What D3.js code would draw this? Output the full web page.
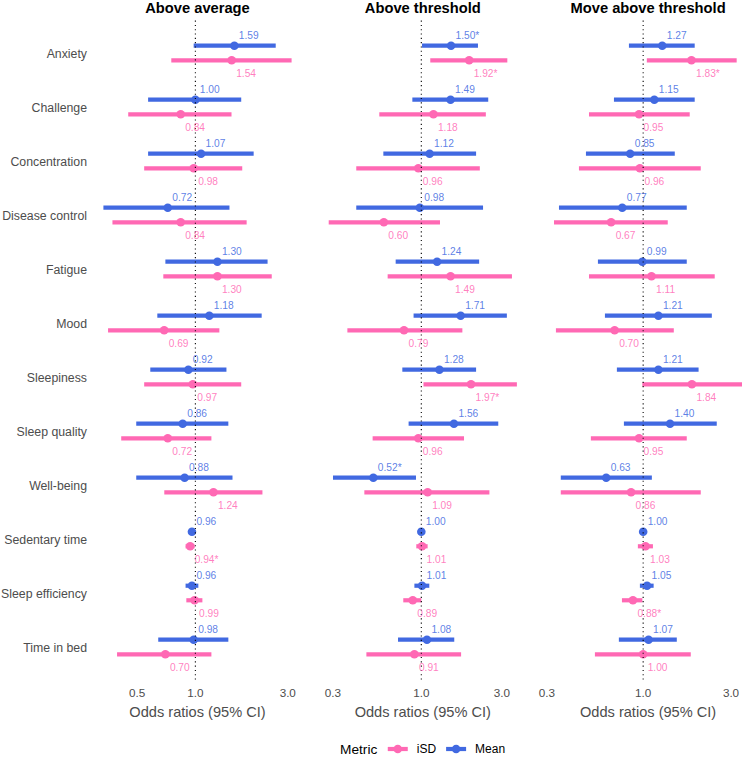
<!DOCTYPE html>
<html>
<head>
<meta charset="utf-8">
<script src="https://cdn.jsdelivr.net/npm/d3@7"></script>
<style>
  body { margin: 0; background: #fff; }
  svg { display: block; font-family: "Liberation Sans", Arial, sans-serif; }
</style>
</head>
<body>
<div id="chart"></div>
<script>
const categories = ['Anxiety', 'Challenge', 'Concentration', 'Disease control', 'Fatigue', 'Mood',
  'Sleepiness', 'Sleep quality', 'Well-being', 'Sedentary time', 'Sleep efficiency', 'Time in bed'];
const panels = ['Above average', 'Above threshold', 'Move above threshold'];
const metrics = ['iSD', 'Mean'];
const panelTicks = [[0.5, 1, 3], [0.3, 1, 3], [0.3, 1, 3]];

// one row per panel, one value per category
const meanEst = [
  [1.59, 1.00, 1.07, 0.72, 1.30, 1.18, 0.92, 0.86, 0.88, 0.96, 0.96, 0.98],
  [1.50, 1.49, 1.12, 0.98, 1.24, 1.71, 1.28, 1.56, 0.52, 1.00, 1.01, 1.08],
  [1.27, 1.15, 0.85, 0.77, 0.99, 1.21, 1.21, 1.40, 0.63, 1.00, 1.05, 1.07],
];
const meanLo = [
  [0.98, 0.57, 0.57, 0.335, 0.70, 0.636, 0.585, 0.495, 0.495, 0.95, 0.89, 0.643],
  [1.01, 0.885, 0.596, 0.412, 0.705, 0.90, 0.772, 0.841, 0.30, 0.99, 0.91, 0.728],
  [0.837, 0.694, 0.489, 0.349, 0.568, 0.62, 0.72, 0.786, 0.357, 0.98, 0.96, 0.738],
];
const meanHi = [
  [2.60, 1.725, 2.00, 1.50, 2.36, 2.20, 1.447, 1.48, 1.555, 0.97, 1.036, 1.48],
  [2.165, 2.49, 2.11, 2.32, 2.20, 3.21, 2.11, 2.855, 0.93, 1.01, 1.115, 1.567],
  [1.905, 1.905, 1.485, 1.725, 1.725, 2.36, 2.00, 2.51, 1.115, 1.02, 1.14, 1.523],
];
const isdEst = [
  [1.54, 0.84, 0.98, 0.84, 1.30, 0.69, 0.97, 0.72, 1.24, 0.94, 0.99, 0.70],
  [1.92, 1.18, 0.96, 0.60, 1.49, 0.79, 1.97, 0.96, 1.09, 1.01, 0.89, 0.91],
  [1.83, 0.95, 0.96, 0.67, 1.11, 0.70, 1.84, 0.95, 0.86, 1.03, 0.88, 1.00],
];
const isdLo = [
  [0.751, 0.45, 0.544, 0.373, 0.683, 0.354, 0.544, 0.414, 0.691, 0.89, 0.898, 0.394],
  [1.13, 0.564, 0.412, 0.283, 0.632, 0.365, 1.03, 0.515, 0.46, 0.934, 0.782, 0.473],
  [1.047, 0.508, 0.448, 0.328, 0.508, 0.336, 0.99, 0.52, 0.357, 0.936, 0.767, 0.547],
];
const isdHi = [
  [3.14, 1.537, 1.746, 1.84, 2.48, 1.33, 1.725, 1.21, 2.22, 0.99, 1.087, 1.21],
  [3.23, 2.41, 2.22, 1.29, 3.44, 1.75, 3.68, 1.79, 2.53, 1.09, 1.00, 1.72],
  [3.22, 1.79, 2.055, 1.36, 2.447, 1.467, 3.45, 1.725, 2.055, 1.13, 0.99, 1.814],
];
const meanSig = [
  [0, 0, 0, 0, 0, 0, 0, 0, 0, 0, 0, 0],
  [1, 0, 0, 0, 0, 0, 0, 0, 1, 0, 0, 0],
  [0, 0, 0, 0, 0, 0, 0, 0, 0, 0, 0, 0],
];
const isdSig = [
  [0, 0, 0, 0, 0, 0, 0, 0, 0, 1, 0, 0],
  [1, 0, 0, 0, 0, 0, 1, 0, 0, 0, 0, 0],
  [1, 0, 0, 0, 0, 0, 0, 0, 0, 0, 1, 0],
];

const width = 742;
const height = 757;
const colors = { iSD: '#FF69B4', Mean: '#4169E1' };
const textGrey = '#4D4D4D';

// layout
const panelLeft = 94;
const panelWidth = 207;
const panelGap = 18.3;
const panelTop = 20.6;
const panelBottom = 679.4;

const svg = d3.select('#chart')
  .append('svg')
  .attr('width', width)
  .attr('height', height);

const y = d3.scalePoint()
  .domain(categories)
  .range([panelTop, panelBottom])
  .padding(0.6);
const dodge = y.step() * 0.135;

// y axis labels
svg.append('g')
  .selectAll('text')
  .data(categories)
  .enter()
  .append('text')
  .attr('x', 87)
  .attr('y', d => y(d) + 1)
  .attr('dy', '0.35em')
  .attr('text-anchor', 'end')
  .attr('fill', textGrey)
  .style('font-size', '12.3px')
  .text(d => d);

const fmt = d3.format('.2f');

panels.forEach((panel, p) => {
  const rows = categories.map((c, i) => [
    { cat: c, metric: 'Mean', est: meanEst[p][i], lo: meanLo[p][i], hi: meanHi[p][i], sig: meanSig[p][i] },
    { cat: c, metric: 'iSD', est: isdEst[p][i], lo: isdLo[p][i], hi: isdHi[p][i], sig: isdSig[p][i] },
  ]).flat();

  // free log x scale, 5% expansion like ggplot
  const lmin = Math.log10(d3.min(rows, d => d.lo));
  const lmax = Math.log10(d3.max(rows, d => d.hi));
  const pad = (lmax - lmin) * 0.05;
  const x0 = panelLeft + p * (panelWidth + panelGap);
  const x = d3.scaleLog()
    .domain([10 ** (lmin - pad), 10 ** (lmax + pad)])
    .range([x0, x0 + panelWidth]);

  const yPos = d => y(d.cat) + (d.metric === 'Mean' ? -dodge : dodge);

  const g = svg.append('g').attr('class', 'panel');

  // title
  g.append('text')
    .attr('x', x0 + panelWidth / 2)
    .attr('y', 12.5)
    .attr('text-anchor', 'middle')
    .style('font-size', '14.7px')
    .style('font-weight', 'bold')
    .attr('fill', '#000')
    .text(panel);

  // ranges
  g.selectAll('line.ci')
    .data(rows)
    .enter()
    .append('line')
    .attr('class', 'ci')
    .attr('x1', d => x(d.lo))
    .attr('x2', d => x(d.hi))
    .attr('y1', yPos)
    .attr('y2', yPos)
    .attr('stroke', d => colors[d.metric])
    .attr('stroke-width', 4.2);

  g.selectAll('circle.est')
    .data(rows)
    .enter()
    .append('circle')
    .attr('class', 'est')
    .attr('cx', d => x(d.est))
    .attr('cy', yPos)
    .attr('r', 4.3)
    .attr('fill', d => colors[d.metric]);

  // reference line at OR = 1
  g.append('line')
    .attr('x1', x(1))
    .attr('x2', x(1))
    .attr('y1', panelTop)
    .attr('y2', panelBottom)
    .attr('stroke', '#000')
    .attr('stroke-width', 1.1)
    .attr('stroke-dasharray', '1.1,3.2');

  // value labels
  g.selectAll('text.val')
    .data(rows)
    .enter()
    .append('text')
    .attr('class', 'val')
    .attr('x', d => x(d.est) + 4.5)
    .attr('y', d => yPos(d) + (d.metric === 'Mean' ? -10.5 : 13))
    .attr('dy', '0.35em')
    .attr('fill', d => colors[d.metric])
    .attr('fill-opacity', 0.85)
    .style('font-size', '10.2px')
    .text(d => fmt(d.est) + (d.sig ? '*' : ''));

  // x axis
  g.selectAll('text.tick')
    .data(panelTicks[p])
    .enter()
    .append('text')
    .attr('class', 'tick')
    .attr('x', d => x(d))
    .attr('y', 697)
    .attr('text-anchor', 'middle')
    .attr('fill', textGrey)
    .style('font-size', '11.7px')
    .text(d => d3.format('.1f')(d));

  g.append('text')
    .attr('x', x0 + panelWidth / 2)
    .attr('y', 717)
    .attr('text-anchor', 'middle')
    .attr('fill', textGrey)
    .style('font-size', '14.6px')
    .text('Odds ratios (95% CI)');
});

// legend
const legend = svg.append('g').attr('class', 'legend');
const ly = 749;
let lx = 340;
const title = legend.append('text')
  .attr('x', lx)
  .attr('y', ly)
  .attr('dy', '0.35em')
  .attr('fill', '#000')
  .style('font-size', '13.7px')
  .text('Metric');
lx += title.node().getComputedTextLength() + 10.5;

metrics.forEach((m) => {
  legend.append('line')
    .attr('x1', lx)
    .attr('x2', lx + 20)
    .attr('y1', ly)
    .attr('y2', ly)
    .attr('stroke', colors[m])
    .attr('stroke-width', 4.2);
  legend.append('circle')
    .attr('cx', lx + 10)
    .attr('cy', ly)
    .attr('r', 4.3)
    .attr('fill', colors[m]);
  lx += 29;
  const t = legend.append('text')
    .attr('x', lx)
    .attr('y', ly)
    .attr('dy', '0.35em')
    .attr('fill', '#000')
    .style('font-size', '12px')
    .text(m);
  lx += t.node().getComputedTextLength() + 10;
});
</script>
</body>
</html>
